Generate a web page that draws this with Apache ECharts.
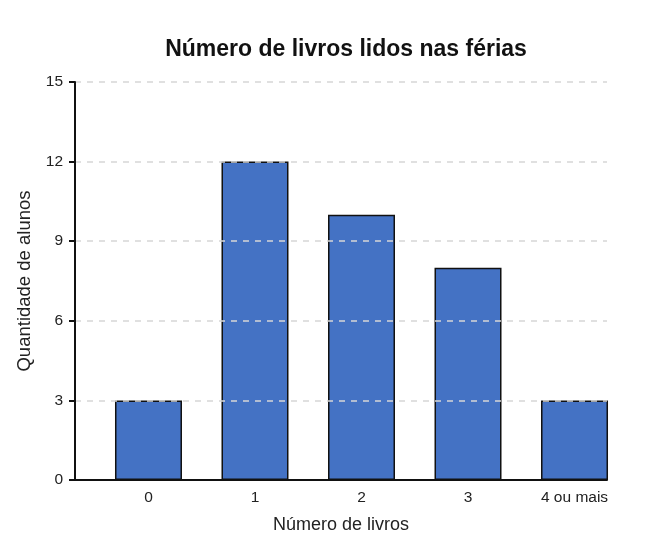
<!DOCTYPE html>
<html>
<head>
<meta charset="utf-8">
<script src="https://cdn.jsdelivr.net/npm/echarts@6/dist/echarts.min.js"></script>
<style>html,body{margin:0;padding:0;background:#fff;}#c{width:654px;height:552px;}</style>
</head>
<body>
<div id="c"></div>
<script>
const categories = ["0", "1", "2", "3", "4 ou mais"];
const values = [3, 12, 10, 8, 3];
const yTicks = [0, 3, 6, 9, 12, 15];

const chart = echarts.init(document.getElementById('c'));
const font = "'Liberation Sans', Arial, sans-serif";
chart.setOption({
  backgroundColor: '#fff',
  animation: false,
  title: {
    text: 'Número de livros lidos nas férias',
    left: 341, textAlign: 'center', top: 33,
    textStyle: { fontFamily: font, fontSize: 23, fontWeight: 'bold', color: '#111' }
  },
  grid: { left: 75, right: 47, top: 82, bottom: 72, outerBoundsMode: 'none' },
  xAxis: {
    type: 'value', z: 4,
    min: -0.69, max: 4.305,
    name: 'Número de livros', nameLocation: 'middle', nameGap: 36,
    nameTextStyle: { fontFamily: font, fontSize: 18, color: '#222' },
    axisLine: { show: true, onZero: false, lineStyle: { color: '#111', width: 2 } },
    axisTick: { show: false },
    splitLine: { show: false },
    axisLabel: {
      customValues: categories.map((c, i) => i),
      formatter: v => categories[Math.round(v)],
      fontFamily: font, fontSize: 15.5, color: '#222', margin: 10
    }
  },
  yAxis: {
    type: 'value', min: 0, max: 15, interval: 3, z: 3,
    name: 'Quantidade de alunos', nameLocation: 'middle', nameGap: 37,
    nameTextStyle: { fontFamily: font, fontSize: 18.5, color: '#222' },
    axisLine: { show: true, onZero: false, lineStyle: { color: '#111', width: 2 } },
    axisTick: { show: true, length: 6, lineStyle: { color: '#111', width: 2 } },
    axisLabel: { fontFamily: font, fontSize: 15.5, color: '#222', margin: 12,
      formatter: v => yTicks.includes(v) ? String(v) : '' },
    splitLine: { show: true, lineStyle: { color: '#d6d6d6', type: [6, 6], width: 1.5 } }
  },
  series: [{
    type: 'bar',
    z: 2,
    barWidth: 67,
    data: values.map((v, i) => [i, v]),
    itemStyle: { color: '#4472C4', borderColor: '#111', borderWidth: 1.5 }
  }]
});
</script>
</body>
</html>
